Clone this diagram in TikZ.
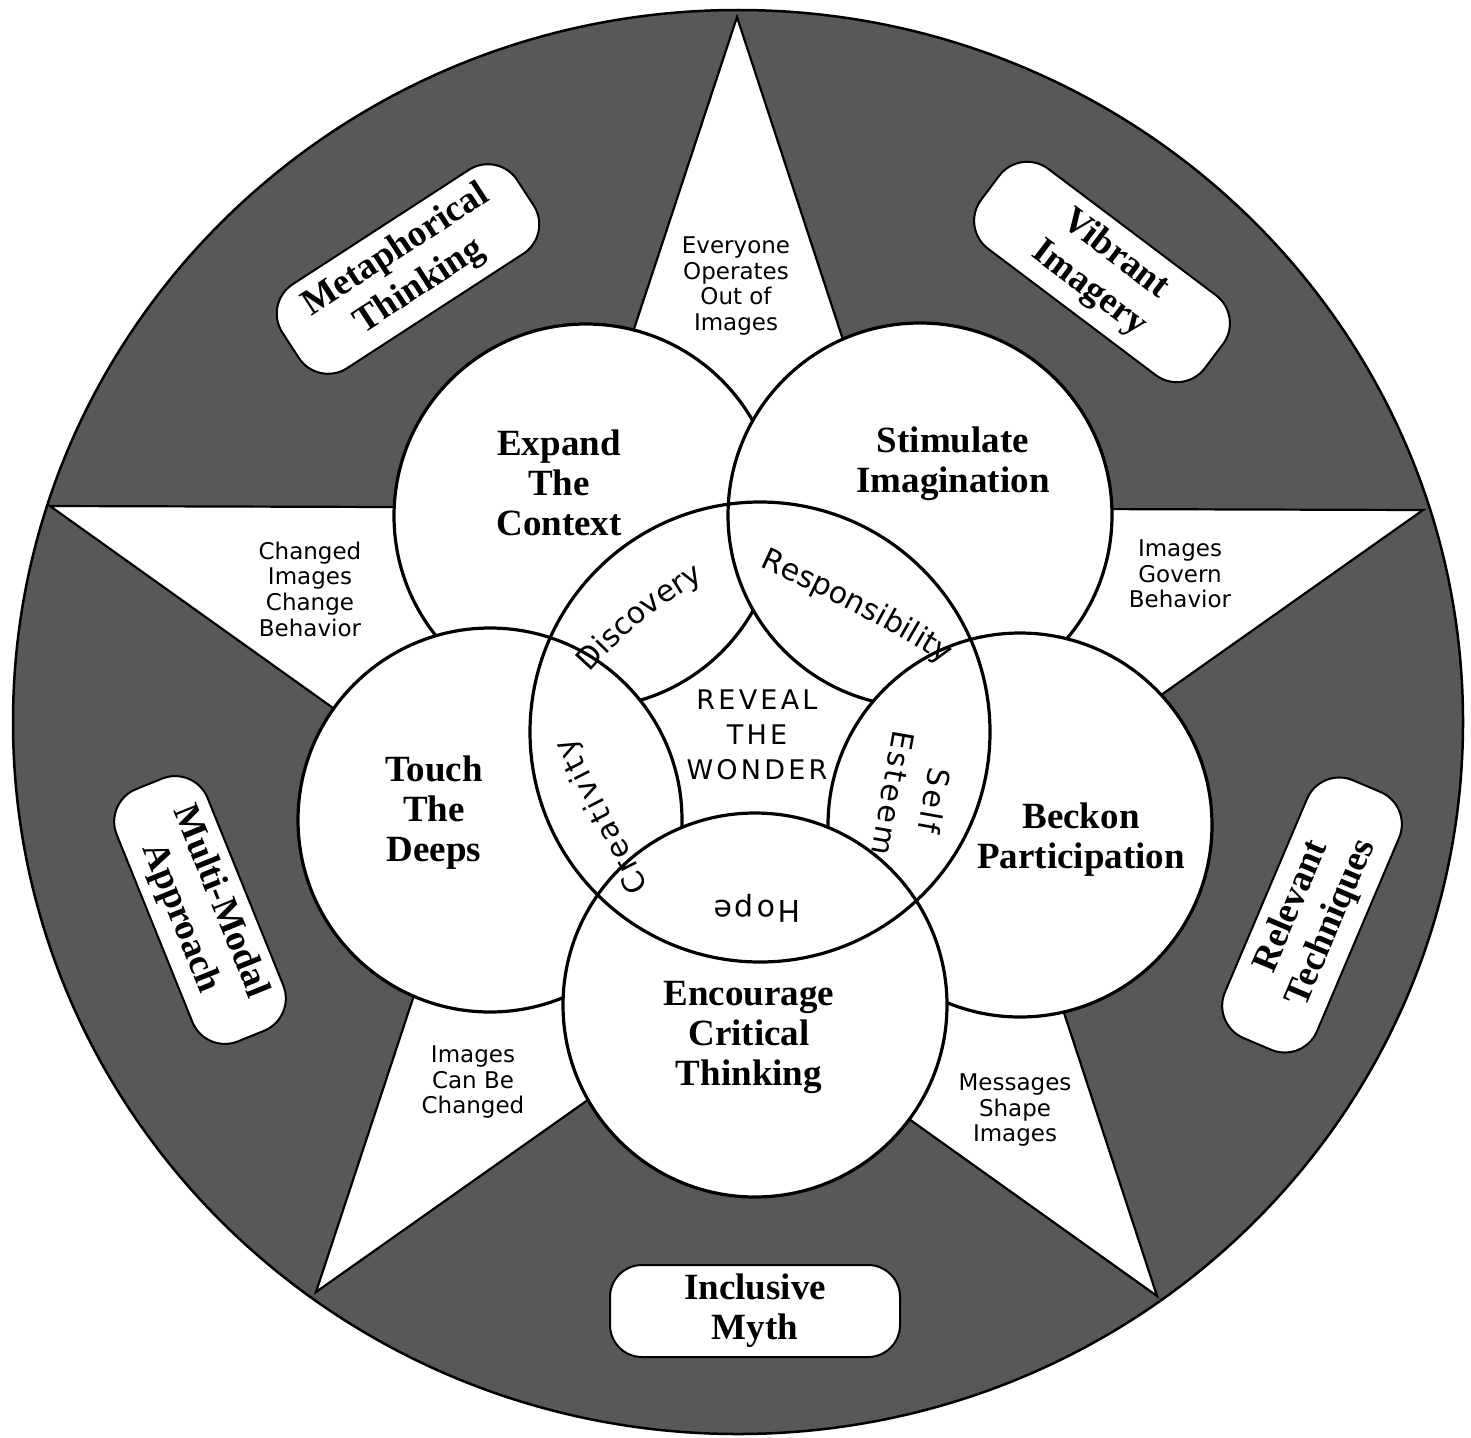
\documentclass[tikz,border=0pt]{standalone}
\usepackage{fontspec}
\setmainfont{Liberation Serif}
\newfontfamily\sansf{DejaVu Sans}
\newfontfamily\sansls[LetterSpace=9]{DejaVu Sans}
\newfontfamily\sanswide[LetterSpace=12]{DejaVu Sans}
\usetikzlibrary{decorations.text}
\definecolor{ringgray}{RGB}{88,88,88}
\newcommand\bandfont{\sansls\fontsize{30}{32}\selectfont}
\begin{document}
\begin{tikzpicture}[x=1pt,y=-1pt,
  ringfill/.style={fill=ringgray, draw=black, line width=2.5pt},
  starshape/.style={fill=white, draw=black, line width=2.2pt, line join=miter},
  bigcirc/.style={circle, fill=white, draw=black, line width=3.2pt, minimum size=384pt, inner sep=0pt},
  seriftxt/.style={font=\bfseries\fontsize{37}{40}\selectfont, align=center, inner sep=0pt},
  smalltxt/.style={font=\sansf\fontsize{23}{25.7}\selectfont, align=center, inner sep=0pt},
  bandtxt/.style={font=\bandfont, align=center, inner sep=0pt},
  pill/.style={draw=black, fill=white, line width=2pt, rounded corners=35pt, align=center,
    font=\bfseries\fontsize{37}{43}\selectfont, inner sep=0pt},
]
\useasboundingbox (0,0) rectangle (1471,1437);
\fill[white] (0,0) rectangle (1471,1437);

% dark ring
\draw[ringfill] (738,722) ellipse [x radius=725, y radius=712];

% star
\coordinate (sT) at (737,17);
\coordinate (sL) at (50,506);
\coordinate (sR) at (1423,510);
\coordinate (sBL) at (316,1292);
\coordinate (sBR) at (1157,1296);
\draw[starshape] (sT) -- (sBL) -- (sR) -- (sL) -- (sBR) -- cycle;

% outer circles (layered)
\node[bigcirc] (cExpand) at (586,516) {};
\node[bigcirc] (cStim)   at (920,515) {};
\node[bigcirc] (cBeckon) at (1020,825) {};
\node[bigcirc] (cTouch)  at (490,820) {};
\node[bigcirc] (cEnc)    at (755,1005) {};

% central circle (outline only)
\node[circle, draw=black, line width=3.2pt, minimum size=460pt, inner sep=0pt] (cCenter) at (760,732) {};

% circle labels
\node[seriftxt] (lExpand) at (559,483) {Expand\\The\\Context};
\node[seriftxt] (lStim)   at (953,464) {Stimulate\\Imagination};
\node[seriftxt] (lTouch)  at (434,813) {Touch\\The\\Deeps};
\node[seriftxt] (lBeckon) at (1081,840) {Beckon\\Participation};
\node[seriftxt] (lEnc)    at (749,1037) {Encourage\\Critical\\Thinking};

% center
\node[font=\sanswide\fontsize{27}{35}\selectfont, align=center, inner sep=0pt] (lReveal) at (757,735) {REVEAL\\THE\\WONDER};

% band words
\path[decorate, decoration={text along path, text={|\bandfont|Discovery}, text align=center}]
  (576,690) .. controls (603,652) and (662,598) .. (724,570);
\path[decorate, decoration={text along path, text={|\bandfont|Responsibility}, text align=center}]
  (736,556) .. controls (812,590) and (892,628) .. (966,678);
\node[bandtxt, rotate=117] (lCreat) at (603,816) {Creativity};
\node[bandtxt, rotate=180] (lHope) at (757,908) {Hope};
\node[font=\sansls\fontsize{30}{42}\selectfont, align=center, inner sep=0pt, rotate=-100] (lSelf) at (914,797) {Self\\Esteem};

% star arm texts
\node[smalltxt] (tTop)   at (736,286) {Everyone\\Operates\\Out of\\Images};
\node[smalltxt] (tLeft)  at (310,589) {Changed\\Images\\Change\\Behavior};
\node[smalltxt] (tRight) at (1180,574) {Images\\Govern\\Behavior};
\node[smalltxt] (tBL)    at (473,1082) {Images\\Can Be\\Changed};
\node[smalltxt] (tBR)    at (1015,1110) {Messages\\Shape\\Images};

% pills in the ring
\node[pill, minimum width=280pt, minimum height=100pt, rotate=33]  (bMeta) at (408,269) {Metaphorical\\Thinking};
\node[pill, minimum width=280pt, minimum height=100pt, rotate=-37] (bVib)  at (1102,272) {Vibrant\\Imagery};
\node[pill, minimum width=272pt, minimum height=98pt, rotate=-68]  (bMulti) at (200,910) {Multi-Modal\\Approach};
\node[pill, minimum width=280pt, minimum height=100pt, rotate=67]   (bRel)  at (1312,915) {Relevant\\Techniques};
\node[pill, minimum width=290pt, minimum height=92pt, rounded corners=32pt, font=\bfseries\fontsize{37}{40}\selectfont] (bIncl) at (755,1311) {Inclusive\\Myth};
\end{tikzpicture}
\end{document}
